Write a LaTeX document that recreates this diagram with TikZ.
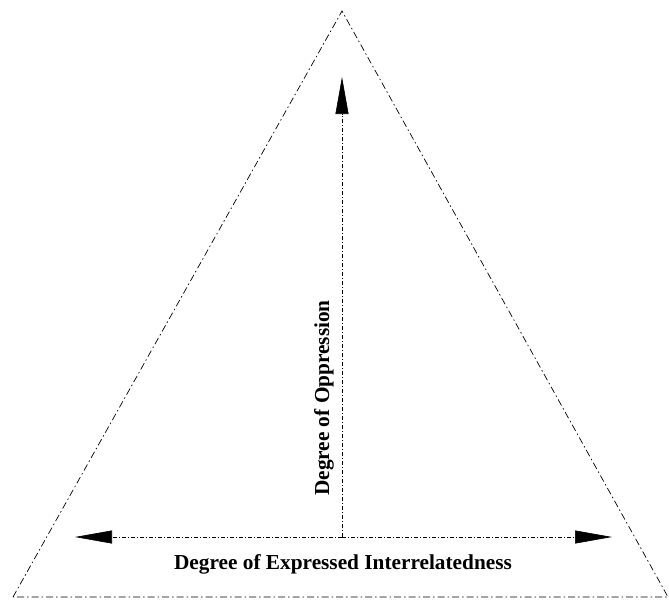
\documentclass[tikz,border=0pt]{standalone}
\usepackage{fontspec}
\setmainfont{Liberation Serif}
\usetikzlibrary{arrows.meta}
\begin{document}
\begin{tikzpicture}[x=1pt,y=-1pt,
  edge/.style={line width=0.7pt,dash pattern=on 7pt off 3pt on 1.5pt off 3pt},
  axis/.style={line width=0.6pt,dash pattern=on 4pt off 2pt on 1pt off 2pt,
    -{Triangle[length=37pt,width=13pt]}},
  lbl/.style={font=\fontsize{21.3}{25}\selectfont\bfseries,inner sep=0pt}]
\useasboundingbox (0,0) rectangle (669,600);
\coordinate (top) at (342,11);
\coordinate (bl) at (13,597);
\coordinate (br) at (668,597);
\draw[edge] (bl) -- (top) -- (br) -- cycle;
\coordinate (o) at (342,537);
\coordinate (up) at (342,77);
\coordinate (lt) at (75,537);
\coordinate (rt) at (612,537);
\draw[axis] (o) -- (up);
\draw[axis] (o) -- (lt);
\draw[axis] (o) -- (rt);
\node[lbl,rotate=90] (vlab) at (324,398) {Degree of Oppression};
\node[lbl,anchor=base] (hlab) at (343,569) {Degree of Expressed Interrelatedness};
\end{tikzpicture}
\end{document}
